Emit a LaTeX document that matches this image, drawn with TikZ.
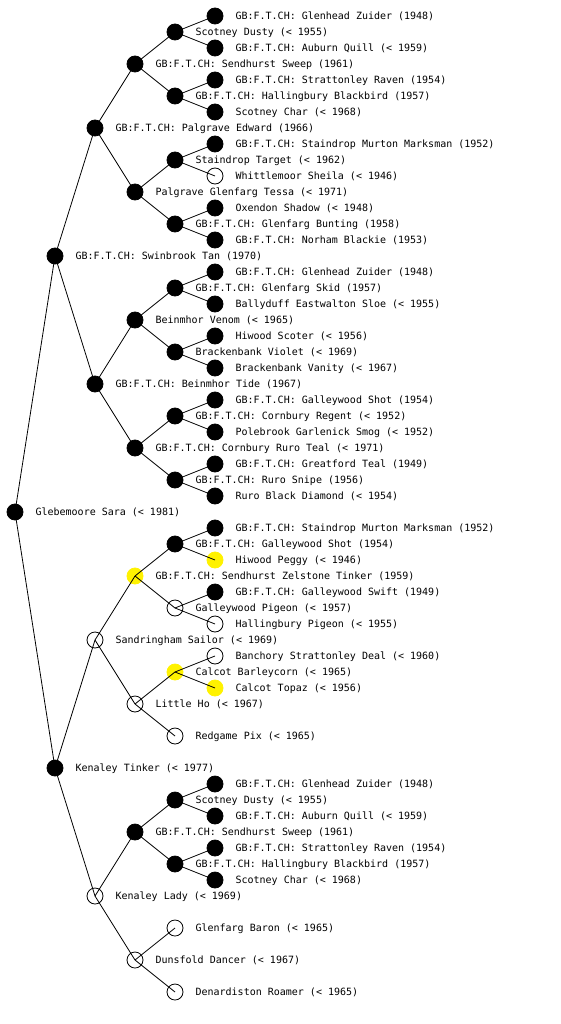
\documentclass[tikz,border=0pt]{standalone}
\usepackage{fontspec}
\setmonofont{DejaVu Sans Mono}
\usetikzlibrary{positioning}
\tikzset{
    dog/.style={circle, minimum size=16pt, inner sep=0pt, line width=0.8pt},
    blackdog/.style={dog, draw=black, fill=black},
    whitedog/.style={dog, draw=black, fill=white},
    yellowdog/.style={dog, draw=yellow, fill=yellow},
    doglabel/.style={inner sep=0pt, font=\ttfamily\fontsize{10}{12}\selectfont},
    link/.style={draw=black, line width=0.8pt}
}

\begin{document}
\begin{tikzpicture}[x=1pt, y=-1pt]
    \useasboundingbox (0,0) rectangle (560,1024);
    % pedigree: node k has sire 2k and dam 2k+1
    \foreach \id/\x/\y/\kind/\txt in {
        1/15/512/blackdog/{Glebemoore Sara (< 1981)},
        2/55/256/blackdog/{GB:F.T.CH: Swinbrook Tan (1970)},
        3/55/768/blackdog/{Kenaley Tinker (< 1977)},
        4/95/128/blackdog/{GB:F.T.CH: Palgrave Edward (1966)},
        5/95/384/blackdog/{GB:F.T.CH: Beinmhor Tide (1967)},
        6/95/640/whitedog/{Sandringham Sailor (< 1969)},
        7/95/896/whitedog/{Kenaley Lady (< 1969)},
        8/135/64/blackdog/{GB:F.T.CH: Sendhurst Sweep (1961)},
        9/135/192/blackdog/{Palgrave Glenfarg Tessa (< 1971)},
        10/135/320/blackdog/{Beinmhor Venom (< 1965)},
        11/135/448/blackdog/{GB:F.T.CH: Cornbury Ruro Teal (< 1971)},
        12/135/576/yellowdog/{GB:F.T.CH: Sendhurst Zelstone Tinker (1959)},
        13/135/704/whitedog/{Little Ho (< 1967)},
        14/135/832/blackdog/{GB:F.T.CH: Sendhurst Sweep (1961)},
        15/135/960/whitedog/{Dunsfold Dancer (< 1967)},
        16/175/32/blackdog/{Scotney Dusty (< 1955)},
        17/175/96/blackdog/{GB:F.T.CH: Hallingbury Blackbird (1957)},
        18/175/160/blackdog/{Staindrop Target (< 1962)},
        19/175/224/blackdog/{GB:F.T.CH: Glenfarg Bunting (1958)},
        20/175/288/blackdog/{GB:F.T.CH: Glenfarg Skid (1957)},
        21/175/352/blackdog/{Brackenbank Violet (< 1969)},
        22/175/416/blackdog/{GB:F.T.CH: Cornbury Regent (< 1952)},
        23/175/480/blackdog/{GB:F.T.CH: Ruro Snipe (1956)},
        24/175/544/blackdog/{GB:F.T.CH: Galleywood Shot (1954)},
        25/175/608/whitedog/{Galleywood Pigeon (< 1957)},
        26/175/672/yellowdog/{Calcot Barleycorn (< 1965)},
        27/175/736/whitedog/{Redgame Pix (< 1965)},
        28/175/800/blackdog/{Scotney Dusty (< 1955)},
        29/175/864/blackdog/{GB:F.T.CH: Hallingbury Blackbird (1957)},
        30/175/928/whitedog/{Glenfarg Baron (< 1965)},
        31/175/992/whitedog/{Denardiston Roamer (< 1965)},
        32/215/16/blackdog/{GB:F.T.CH: Glenhead Zuider (1948)},
        33/215/48/blackdog/{GB:F.T.CH: Auburn Quill (< 1959)},
        34/215/80/blackdog/{GB:F.T.CH: Strattonley Raven (1954)},
        35/215/112/blackdog/{Scotney Char (< 1968)},
        36/215/144/blackdog/{GB:F.T.CH: Staindrop Murton Marksman (1952)},
        37/215/176/whitedog/{Whittlemoor Sheila (< 1946)},
        38/215/208/blackdog/{Oxendon Shadow (< 1948)},
        39/215/240/blackdog/{GB:F.T.CH: Norham Blackie (1953)},
        40/215/272/blackdog/{GB:F.T.CH: Glenhead Zuider (1948)},
        41/215/304/blackdog/{Ballyduff Eastwalton Sloe (< 1955)},
        42/215/336/blackdog/{Hiwood Scoter (< 1956)},
        43/215/368/blackdog/{Brackenbank Vanity (< 1967)},
        44/215/400/blackdog/{GB:F.T.CH: Galleywood Shot (1954)},
        45/215/432/blackdog/{Polebrook Garlenick Smog (< 1952)},
        46/215/464/blackdog/{GB:F.T.CH: Greatford Teal (1949)},
        47/215/496/blackdog/{Ruro Black Diamond (< 1954)},
        48/215/528/blackdog/{GB:F.T.CH: Staindrop Murton Marksman (1952)},
        49/215/560/yellowdog/{Hiwood Peggy (< 1946)},
        50/215/592/blackdog/{GB:F.T.CH: Galleywood Swift (1949)},
        51/215/624/whitedog/{Hallingbury Pigeon (< 1955)},
        52/215/656/whitedog/{Banchory Strattonley Deal (< 1960)},
        53/215/688/yellowdog/{Calcot Topaz (< 1956)},
        56/215/784/blackdog/{GB:F.T.CH: Glenhead Zuider (1948)},
        57/215/816/blackdog/{GB:F.T.CH: Auburn Quill (< 1959)},
        58/215/848/blackdog/{GB:F.T.CH: Strattonley Raven (1954)},
        59/215/880/blackdog/{Scotney Char (< 1968)}} {
        \node[\kind] (n\id) at (\x,\y) {};
        \node[doglabel, right=12pt of n\id, anchor=mid west, yshift=-1pt] (t\id) {\txt};
    }
    % lines from each dog to its parent's centre
    \foreach \c in {2,...,53,56,57,58,59} {
        \pgfmathtruncatemacro{\p}{\c/2}
        \draw[link] (n\p.center) -- (n\c.center);
    }
\end{tikzpicture}
\end{document}
